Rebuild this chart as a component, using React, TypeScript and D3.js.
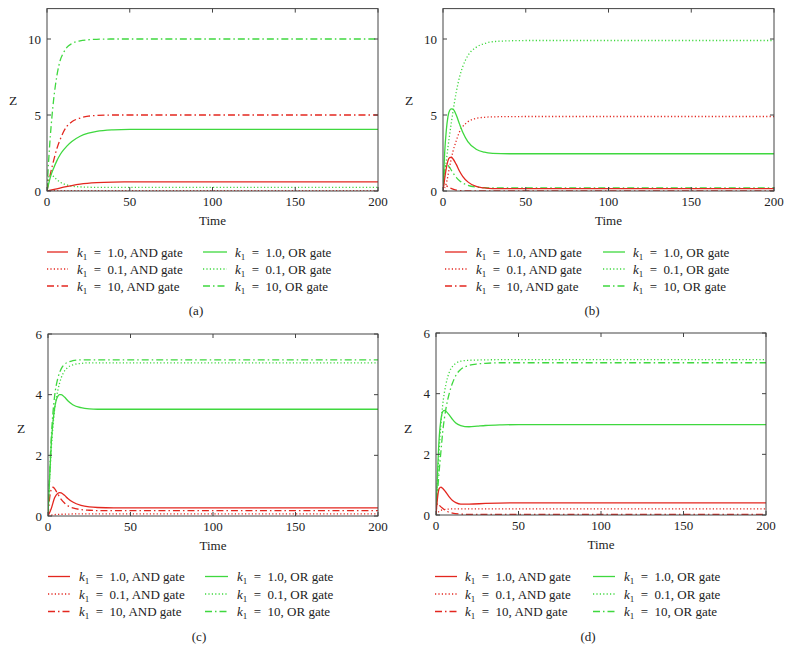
import React from "react";
import * as d3 from "d3";

type P = [number, number];

// ---------- Data (time, Z) ----------
// Panel (a)
const a_and_1: P[] = [[0,0],[5,0.12],[10,0.25],[15,0.36],[20,0.45],[30,0.55],[40,0.59],[50,0.6],[100,0.6],[200,0.6]];
const a_and_01: P[] = [[0,0],[5,0.02],[20,0.03],[200,0.03]];
const a_and_10: P[] = [[0,0],[2,1.1],[4,2.0],[6,2.8],[8,3.4],[10,3.9],[12,4.25],[15,4.55],[20,4.8],[25,4.92],[30,4.97],[40,5],[200,5]];
const a_or_1: P[] = [[0,0],[2,0.9],[4,1.5],[6,2.0],[8,2.4],[10,2.7],[12,2.95],[15,3.25],[20,3.6],[25,3.8],[30,3.92],[40,4.02],[50,4.05],[100,4.06],[150,4.05],[200,4.05]];
const a_or_01: P[] = [[0,0],[1,0.9],[2,1.1],[3,1.05],[4,0.95],[6,0.75],[8,0.58],[10,0.47],[12,0.4],[15,0.32],[20,0.27],[25,0.25],[30,0.24],[200,0.24]];
const a_or_10: P[] = [[0,0],[1,2.0],[2,3.6],[3,4.9],[4,6.0],[6,7.6],[8,8.6],[10,9.1],[12,9.45],[15,9.7],[20,9.88],[25,9.95],[30,9.98],[40,10],[200,10]];

// Panel (b)
const b_and_1: P[] = [[0,0],[1,0.8],[2,1.5],[3,2.0],[4,2.2],[5,2.22],[6,2.12],[8,1.75],[10,1.3],[12,0.95],[15,0.6],[20,0.3],[25,0.2],[30,0.16],[40,0.15],[200,0.15]];
const b_and_01: P[] = [[0,0],[2,0.5],[4,1.6],[6,2.6],[8,3.3],[10,3.9],[12,4.25],[15,4.55],[20,4.78],[25,4.85],[30,4.88],[50,4.9],[200,4.9]];
const b_and_10: P[] = [[0,0],[0.5,0.45],[1,0.42],[2,0.35],[4,0.22],[6,0.12],[8,0.06],[10,0.03],[15,0.01],[200,0.01]];
const b_or_1: P[] = [[0,0],[1,2.5],[2,4.0],[3,4.9],[4,5.3],[5,5.4],[6,5.38],[8,5.0],[10,4.4],[12,3.85],[15,3.25],[20,2.75],[25,2.55],[30,2.48],[40,2.45],[200,2.45]];
const b_or_01: P[] = [[0,0],[2,2.0],[4,3.7],[6,5.2],[8,6.5],[10,7.5],[12,8.2],[15,8.9],[20,9.45],[25,9.7],[30,9.82],[40,9.88],[50,9.9],[200,9.9]];
const b_or_10: P[] = [[0,0],[1,1.5],[2,1.75],[3,1.7],[4,1.55],[6,1.2],[8,0.9],[10,0.68],[12,0.52],[15,0.38],[20,0.26],[25,0.22],[30,0.2],[200,0.2]];

// Panel (c)
const c_and_1: P[] = [[0,0],[2,0.25],[4,0.6],[6,0.75],[7,0.77],[8,0.76],[10,0.68],[12,0.58],[15,0.46],[20,0.35],[25,0.3],[30,0.28],[40,0.27],[200,0.27]];
const c_and_01: P[] = [[0,0],[2,0.03],[5,0.05],[10,0.06],[20,0.07],[200,0.07]];
const c_and_10: P[] = [[0,0],[1,0.6],[2,0.88],[3,0.95],[4,0.9],[6,0.72],[8,0.55],[10,0.43],[12,0.34],[15,0.27],[20,0.21],[25,0.19],[30,0.18],[200,0.18]];
const c_or_1: P[] = [[0,0],[1,1.3],[2,2.4],[3,3.1],[4,3.55],[5,3.82],[6,3.95],[7,4.0],[8,4.0],[10,3.92],[12,3.8],[15,3.67],[20,3.57],[25,3.53],[30,3.52],[200,3.52]];
const c_or_01: P[] = [[0,0],[1,1.2],[2,2.2],[3,2.95],[4,3.5],[6,4.15],[8,4.55],[10,4.78],[12,4.9],[15,4.98],[20,5.03],[25,5.05],[200,5.05]];
const c_or_10: P[] = [[0,0],[1,1.4],[2,2.6],[3,3.4],[4,3.95],[6,4.55],[8,4.85],[10,5.0],[12,5.07],[15,5.12],[20,5.15],[200,5.15]];

// Panel (d)
const d_and_1: P[] = [[0,0],[1,0.6],[2,0.88],[3,0.92],[4,0.88],[6,0.75],[8,0.6],[10,0.48],[12,0.41],[15,0.36],[20,0.36],[30,0.38],[50,0.4],[200,0.4]];
const d_and_01: P[] = [[0,0],[2,0.12],[5,0.18],[10,0.2],[200,0.2]];
const d_and_10: P[] = [[0,0],[0.5,0.35],[1,0.38],[2,0.32],[4,0.22],[6,0.14],[8,0.09],[10,0.06],[15,0.03],[20,0.02],[200,0.02]];
const d_or_1: P[] = [[0,0],[1,1.5],[2,2.6],[3,3.15],[4,3.4],[5,3.45],[6,3.42],[8,3.3],[10,3.15],[12,3.03],[15,2.95],[20,2.91],[25,2.93],[30,2.95],[40,2.97],[50,2.98],[200,2.98]];
const d_or_01: P[] = [[0,0],[1,1.2],[2,2.2],[3,3.0],[4,3.6],[6,4.3],[8,4.7],[10,4.9],[12,5.0],[15,5.07],[20,5.1],[40,5.12],[200,5.12]];
const d_or_10: P[] = [[0,0],[1,0.8],[2,1.5],[3,2.1],[4,2.7],[6,3.5],[8,4.0],[10,4.35],[12,4.6],[15,4.8],[20,4.93],[25,4.98],[30,5.0],[40,5.02],[200,5.02]];

const xTicks = [0, 50, 100, 150, 200];
const yTicksAB = [0, 5, 10];
const yTicksCD = [0, 2, 4, 6];
const legendValues = ["1.0", "0.1", "10"];
const legendGates = ["AND", "OR"];
const panelLetters = ["(a)", "(b)", "(c)", "(d)"];

// ---------- Styles ----------
const RED = "#e3271f";
const GREEN = "#3fd83f";
const DASH = ["none", "1.2,2.2", "7,3,1.5,3"];
const FONT = "Liberation Serif";

type PanelCfg = {
  letter: string;
  data: P[][]; // and_1, and_01, and_10, or_1, or_01, or_10
  yMax: number;
  yTicks: number[];
  x0: number; x1: number; yTop: number; yBot: number;
  zx: number; zy: number;
  leg: { l1: [number, number, number]; l2: [number, number, number]; rows: number[] };
  tickY: number; timeY: number; letterX: number; letterY: number;
};

const panels: PanelCfg[] = [
  {
    letter: panelLetters[0], data: [a_and_1, a_and_01, a_and_10, a_or_1, a_or_01, a_or_10],
    yMax: 12, yTicks: yTicksAB, x0: 47, x1: 378, yTop: 8.6, yBot: 191, zx: 13, zy: 100,
    leg: { l1: [47, 68, 77], l2: [203, 227, 235], rows: [252, 269, 286] },
    tickY: 206, timeY: 225, letterX: 196, letterY: 315,
  },
  {
    letter: panelLetters[1], data: [b_and_1, b_and_01, b_and_10, b_or_1, b_or_01, b_or_10],
    yMax: 12, yTicks: yTicksAB, x0: 443, x1: 774, yTop: 8.6, yBot: 191, zx: 409, zy: 100,
    leg: { l1: [445, 467, 476], l2: [603, 625, 633], rows: [252, 269, 286] },
    tickY: 206, timeY: 225, letterX: 592, letterY: 315,
  },
  {
    letter: panelLetters[2], data: [c_and_1, c_and_01, c_and_10, c_or_1, c_or_01, c_or_10],
    yMax: 6, yTicks: yTicksCD, x0: 48, x1: 378, yTop: 334, yBot: 516, zx: 21, zy: 428,
    leg: { l1: [48, 70, 79], l2: [205, 228, 237], rows: [576.5, 594, 611.5] },
    tickY: 531, timeY: 550, letterX: 199, letterY: 641,
  },
  {
    letter: panelLetters[3], data: [d_and_1, d_and_01, d_and_10, d_or_1, d_or_01, d_or_10],
    yMax: 6, yTicks: yTicksCD, x0: 436, x1: 766, yTop: 333, yBot: 515, zx: 408, zy: 428,
    leg: { l1: [435, 457, 465], l2: [593, 615, 624], rows: [576.5, 594, 611.5] },
    tickY: 530, timeY: 549, letterX: 588, letterY: 641,
  },
];

function Panel({ cfg, idx }: { cfg: PanelCfg; idx: number }) {
  const x = d3.scaleLinear().domain([0, 200]).range([cfg.x0, cfg.x1]);
  const y = d3.scaleLinear().domain([0, cfg.yMax]).range([cfg.yBot, cfg.yTop]);
  const line = d3
    .line<P>()
    .x((d) => x(d[0]))
    .y((d) => y(d[1]))
    .curve(d3.curveMonotoneX);
  const clipId = `clip${idx}`;
  const tl = 4;
  const order = [4, 5, 1, 2, 3, 0];
  return (
    <g fontFamily={FONT}>
      <defs>
        <clipPath id={clipId}>
          <rect x={cfg.x0} y={cfg.yTop} width={cfg.x1 - cfg.x0} height={cfg.yBot - cfg.yTop} />
        </clipPath>
      </defs>
      <g clipPath={`url(#${clipId})`}>
        {order.map((i) => (
          <path
            key={i}
            d={line(cfg.data[i]) || ""}
            fill="none"
            stroke={i < 3 ? RED : GREEN}
            strokeWidth={1.3}
            strokeDasharray={DASH[i % 3]}
          />
        ))}
      </g>
      <rect
        x={cfg.x0}
        y={cfg.yTop}
        width={cfg.x1 - cfg.x0}
        height={cfg.yBot - cfg.yTop}
        fill="none"
        stroke="#444"
        strokeWidth={1}
      />
      {xTicks.map((t) => (
        <g key={`xt${t}`}>
          <line x1={x(t)} x2={x(t)} y1={cfg.yBot} y2={cfg.yBot - tl} stroke="#444" />
          <line x1={x(t)} x2={x(t)} y1={cfg.yTop} y2={cfg.yTop + tl} stroke="#444" />
          <text x={x(t)} y={cfg.tickY} textAnchor="middle" fontSize={13} fill="#222">
            {t}
          </text>
        </g>
      ))}
      {cfg.yTicks.map((t) => (
        <g key={`yt${t}`}>
          <line x1={cfg.x0} x2={cfg.x0 + tl} y1={y(t)} y2={y(t)} stroke="#444" />
          <line x1={cfg.x1} x2={cfg.x1 - tl} y1={y(t)} y2={y(t)} stroke="#444" />
          <text x={cfg.x0 - 6} y={y(t) + 4.5} textAnchor="end" fontSize={13} fill="#222">
            {t}
          </text>
        </g>
      ))}
      <text x={cfg.zx} y={cfg.zy + 4.5} textAnchor="middle" fontSize={13.5} fill="#222">
        Z
      </text>
      <text x={(cfg.x0 + cfg.x1) / 2} y={cfg.timeY} textAnchor="middle" fontSize={13} fill="#222">
        Time
      </text>
      {[0, 1].map((g) =>
        legendValues.map((v, r) => {
          const col = g === 0 ? cfg.leg.l1 : cfg.leg.l2;
          const ry = cfg.leg.rows[r];
          return (
            <g key={`lg${g}${r}`}>
              <line
                x1={col[0]}
                x2={col[1]}
                y1={ry}
                y2={ry}
                stroke={g === 0 ? RED : GREEN}
                strokeWidth={1.3}
                strokeDasharray={DASH[r]}
              />
              <text x={col[2]} y={ry + 4.5} fontSize={13} fill="#222">
                <tspan fontStyle="italic">k</tspan>
                <tspan fontSize={9} dy={3}>1</tspan>
                <tspan dy={-3}>{"\u2002=\u2002" + v + ", " + legendGates[g] + " gate"}</tspan>
              </text>
            </g>
          );
        })
      )}
      <text x={cfg.letterX} y={cfg.letterY} textAnchor="middle" fontSize={13} fill="#222">
        {cfg.letter}
      </text>
    </g>
  );
}

export default function App() {
  return (
    <svg
      width={792}
      height={661}
      viewBox="0 0 792 661"
      style={{ position: "absolute", left: 0, top: 0, background: "#fff" }}
    >
      <rect x={0} y={0} width={792} height={661} fill="#fff" />
      {panels.map((p, i) => (
        <Panel key={i} cfg={p} idx={i} />
      ))}
    </svg>
  );
}
